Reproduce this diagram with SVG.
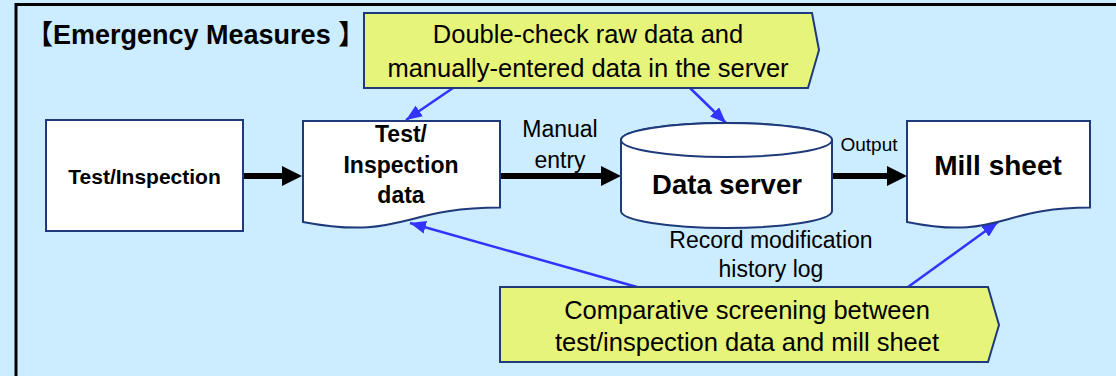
<svg xmlns="http://www.w3.org/2000/svg" width="1116" height="376" viewBox="0 0 1116 376">
  <style>
    text { font-family: "Liberation Sans", "Noto Sans CJK JP", sans-serif; fill: #000; }
    .node { fill: #fff; stroke: #1F3A7A; stroke-width: 2; }
    .callout { fill: #E6F47A; stroke: #1F3A7A; stroke-width: 2; }
    .b { font-weight: bold; text-anchor: middle; }
    .m { text-anchor: middle; }
    .blk { stroke: #000; stroke-width: 6; fill: none; }
    .blu { stroke: #3333FF; stroke-width: 2.5; fill: none; }
  </style>
  <defs>
    <marker id="ahBlack" markerUnits="userSpaceOnUse" markerWidth="20" markerHeight="20" viewBox="0 0 20 20" refX="0" refY="10" orient="auto">
      <path d="M0,0 L20,10 L0,20 Z" fill="#000"/>
    </marker>
    <marker id="ahBlue" markerUnits="userSpaceOnUse" markerWidth="16" markerHeight="13" viewBox="0 0 16 13" refX="16" refY="6.5" orient="auto">
      <path d="M0,0 L16,6.5 L0,13 Z" fill="#3333FF"/>
    </marker>
  </defs>

  <rect x="0" y="0" width="1116" height="376" fill="#CCECFF"/>
  <path d="M16,376 V4.5 H1116" fill="none" stroke="#000" stroke-width="3"/>

  <text id="title" x="26" y="44" font-size="27" font-weight="bold">【Emergency Measures 】</text>

  <g id="connectors">
    <line class="blk" x1="243" y1="176" x2="282" y2="176" marker-end="url(#ahBlack)"/>
    <line class="blk" x1="500" y1="176" x2="601" y2="176" marker-end="url(#ahBlack)"/>
    <line class="blk" x1="832" y1="176" x2="887" y2="176" marker-end="url(#ahBlack)"/>
    <line class="blu" x1="453" y1="88" x2="406" y2="120" marker-end="url(#ahBlue)"/>
    <line class="blu" x1="690" y1="88" x2="726" y2="123" marker-end="url(#ahBlue)"/>
    <line class="blu" x1="637" y1="287" x2="410" y2="223" marker-end="url(#ahBlue)"/>
    <line class="blu" x1="908" y1="287" x2="998" y2="222" marker-end="url(#ahBlue)"/>
    <text class="m" x="560" y="137" font-size="23">Manual</text>
    <text class="m" x="560" y="168" font-size="23">entry</text>
    <text class="m" x="869" y="151" font-size="19">Output</text>
  </g>

  <g id="test-inspection">
    <rect class="node" x="46" y="120" width="197" height="111"/>
    <text class="b" x="144.5" y="184" font-size="21">Test/Inspection</text>
  </g>

  <g id="test-data">
    <path class="node" d="M303,121 H500 V207.6 C401.5,207.6 401.5,240.6 303,221.9 Z"/>
    <text class="b" x="401" y="142" font-size="23">Test/</text>
    <text class="b" x="401" y="173" font-size="23">Inspection</text>
    <text class="b" x="401" y="203" font-size="23">data</text>
  </g>

  <g id="data-server">
    <path class="node" d="M621,140 V211 A105.5,17 0 0 0 832,211 V140 A105.5,17 0 0 0 621,140 Z"/>
    <ellipse class="node" cx="726.5" cy="140" rx="105.5" ry="17"/>
    <text class="b" x="727" y="194" font-size="27.5">Data server</text>
    <text class="m" x="771" y="248" font-size="23">Record modification</text>
    <text class="m" x="771" y="277" font-size="23">history log</text>
  </g>

  <g id="mill-sheet">
    <path class="node" d="M907,121 H1090 V207.6 C998.5,207.6 998.5,240.6 907,221.9 Z"/>
    <text class="b" x="998" y="175" font-size="28">Mill sheet</text>
  </g>

  <g id="callout-top">
    <polygon class="callout" points="364,13 812,13 819,50 808,88 364,88"/>
    <text class="m" x="588" y="43" font-size="25.5">Double-check raw data and</text>
    <text class="m" x="588" y="77" font-size="25.5">manually-entered data in the server</text>
  </g>

  <g id="callout-bottom">
    <polygon class="callout" points="500,287 988,287 999,325 988,362 500,362"/>
    <text class="m" x="747" y="319" font-size="25.5">Comparative screening between</text>
    <text class="m" x="747" y="351" font-size="25.5">test/inspection data and mill sheet</text>
  </g>
</svg>
